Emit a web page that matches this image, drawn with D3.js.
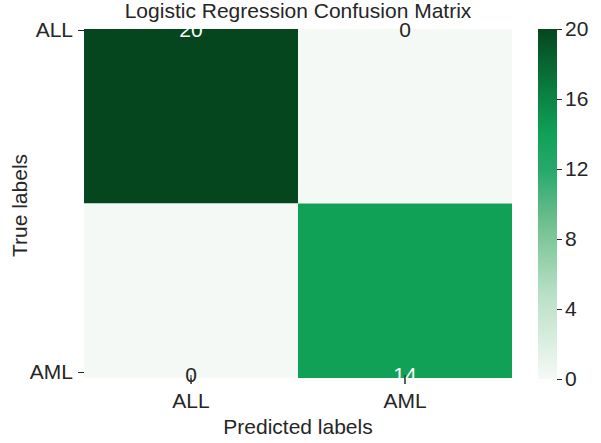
<!DOCTYPE html>
<html>
<head>
<meta charset="utf-8">
<script src="https://cdn.jsdelivr.net/npm/d3@7"></script>
<style>
  html, body { margin: 0; padding: 0; background: #fff; }
  svg text { font-family: "Liberation Sans", Arial, Helvetica, sans-serif; }
</style>
</head>
<body>
<svg id="chart" width="601" height="443"></svg>
<script>
// Confusion matrix data
const trueLabels = ["ALL", "AML"];
const predLabels = ["ALL", "AML"];
const counts = [
  [20, 0],
  [0, 14]
];
const colorbarTicks = [0, 4, 8, 12, 16, 20];
const title = "Logistic Regression Confusion Matrix";

(function () {
  const svg = d3.select("#chart");
  const mLeft = 84, mRight = 512, mTop = 29, mBottom = 378;
  const fs = 21;
  const ink = "#262626";

  const x = d3.scaleBand().domain(predLabels).range([mLeft, mRight]);
  const y = d3.scaleBand().domain(trueLabels).range([mTop, mBottom]);
  // row ticks and annotations sit near the matrix edges
  const yEdge = d3.scalePoint().domain(trueLabels).range([mTop + 1, mBottom - 6]);

  const vmax = d3.max(counts.flat());
  const color = d3.scaleLinear()
    .domain([0, 0.25, 0.45, 0.6, 0.7, 0.8, 1].map(t => t * vmax))
    .range(["#f5f9f6", "#b7dfc3", "#6dbf8d", "#27a86b", "#10a157", "#0b8544", "#05461e"])
    .interpolate(d3.interpolateRgb);

  const cells = [];
  trueLabels.forEach((t, i) => predLabels.forEach((p, j) => cells.push({t, p, v: counts[i][j]})));

  svg.append("g").selectAll("rect").data(cells).join("rect")
    .attr("x", d => x(d.p)).attr("y", d => y(d.t))
    .attr("width", x.bandwidth()).attr("height", y.bandwidth())
    .attr("fill", d => color(d.v));

  const styleAxis = g => {
    g.select(".domain").remove();
    g.selectAll("line").attr("stroke", ink);
    g.selectAll("text").attr("font-size", fs).attr("fill", ink)
      .attr("font-family", "Liberation Sans, Arial, sans-serif");
  };

  // x axis
  svg.append("g").attr("transform", `translate(0,${mBottom})`)
    .call(d3.axisBottom(x).tickSize(6).tickPadding(9)).call(styleAxis);

  // y axis
  svg.append("g").attr("transform", `translate(${mLeft},0)`)
    .call(d3.axisLeft(yEdge).tickSize(6).tickPadding(5)).call(styleAxis);

  // cell annotations
  svg.append("g").selectAll("text").data(cells).join("text")
    .attr("x", d => x(d.p) + x.bandwidth() / 2)
    .attr("y", d => yEdge(d.t) + (d.t === trueLabels[0] ? 0 : 3))
    .attr("dy", "0.35em")
    .attr("text-anchor", "middle")
    .attr("font-size", fs)
    .attr("fill", d => d.v > vmax / 2 ? "#ffffff" : ink)
    .text(d => d.v);

  // x tick marks drawn over the annotations
  svg.append("g").selectAll("line").data(predLabels).join("line")
    .attr("x1", d => x(d) + x.bandwidth() / 2).attr("x2", d => x(d) + x.bandwidth() / 2)
    .attr("y1", mBottom - 3).attr("y2", mBottom + 6)
    .attr("stroke", ink);

  // colorbar
  const cbX = 538, cbW = 19;
  const cbScale = d3.scaleLinear().domain([0, vmax]).range([mBottom + 1, mTop]);
  const grad = svg.append("defs").append("linearGradient").attr("id", "cbgrad")
    .attr("x1", 0).attr("y1", 1).attr("x2", 0).attr("y2", 0);
  d3.range(0, 1.0001, 0.05).forEach(t => {
    grad.append("stop").attr("offset", t).attr("stop-color", color(t * vmax));
  });
  svg.append("rect").attr("x", cbX).attr("y", mTop).attr("width", cbW)
    .attr("height", mBottom + 1 - mTop).attr("fill", "url(#cbgrad)");
  svg.append("g").attr("transform", `translate(${cbX + cbW},0)`)
    .call(d3.axisRight(cbScale).tickValues(colorbarTicks).tickSize(5).tickPadding(3))
    .call(styleAxis);

  // titles
  svg.append("text").attr("x", (mLeft + mRight) / 2).attr("y", 18)
    .attr("text-anchor", "middle").attr("font-size", fs).attr("fill", ink)
    .text(title);
  svg.append("text").attr("x", (mLeft + mRight) / 2).attr("y", 434)
    .attr("text-anchor", "middle").attr("font-size", fs).attr("fill", ink)
    .text("Predicted labels");
  svg.append("text")
    .attr("transform", `translate(27,${(mTop + mBottom) / 2 + 2}) rotate(-90)`)
    .attr("text-anchor", "middle").attr("font-size", fs).attr("fill", ink)
    .text("True labels");
})();
</script>
</body>
</html>
